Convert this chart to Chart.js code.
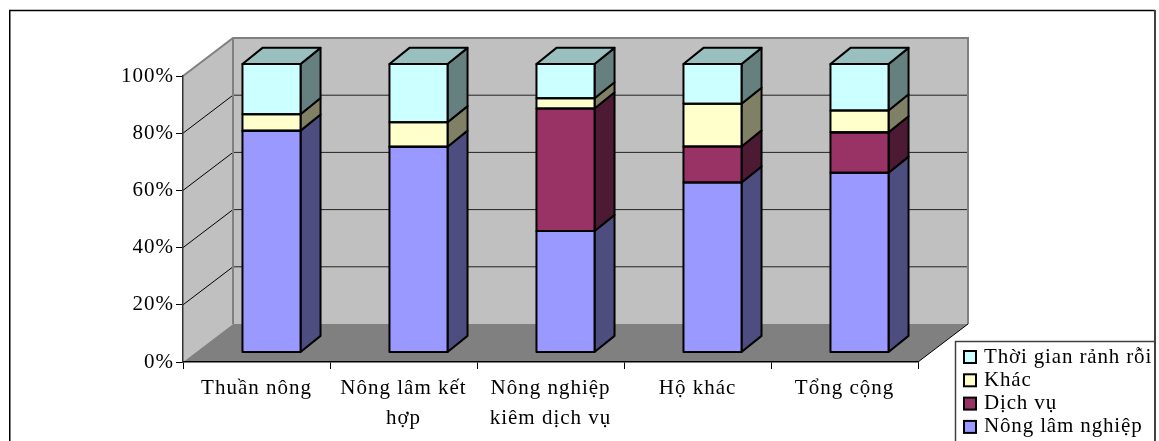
<!DOCTYPE html>
<html>
<head>
<meta charset="utf-8">
<title>Cơ cấu thời gian</title>
<script src="https://cdn.jsdelivr.net/npm/chart.js@4"></script>
<style>
    html, body { margin: 0; padding: 0; background: #fff; }
    canvas { display: block; }
</style>
</head>
<body>
<canvas id="chart" width="1159" height="441"></canvas>
<script>
const categories = ["Thuần nông", ["Nông lâm kết", "hợp"], ["Nông nghiệp", "kiêm dịch vụ"], "Hộ khác", "Tổng cộng"];
const nongLam = [76.9, 71.3, 42.1, 58.9, 62.3];
const dichVu = [0, 0, 42.5, 12.5, 14];
const khac = [5.7, 8.5, 3.5, 14.8, 7.6];
const ranhRoi = [17.4, 20.2, 11.9, 13.8, 16.1];
const yTicks = [0, 20, 40, 60, 80, 100];

const FONT = "'Liberation Serif', 'Times New Roman', serif";

// depth of the box and of each column
const boxDepth = { x: 50, y: 38 };
const barDepth = { x: 20, y: 16 };
// columns stand a little inside the floor
const barPlane = { dx: 15, scale: 1.00874, floor: 352.5 };

function shade(hex, f) {
    const n = parseInt(hex.slice(1), 16);
    const c = [n >> 16, (n >> 8) & 255, n & 255].map(v => Math.round(v * f));
    return `rgb(${c[0]},${c[1]},${c[2]})`;
}

function poly(ctx, pts, fill, stroke, lw) {
    ctx.beginPath();
    pts.forEach((p, i) => i ? ctx.lineTo(p[0], p[1]) : ctx.moveTo(p[0], p[1]));
    ctx.closePath();
    if (fill) { ctx.fillStyle = fill; ctx.fill(); }
    if (stroke) { ctx.strokeStyle = stroke; ctx.lineWidth = lw; ctx.stroke(); }
}

function line(ctx, x1, y1, x2, y2, color, lw) {
    ctx.beginPath();
    ctx.moveTo(x1, y1);
    ctx.lineTo(x2, y2);
    ctx.strokeStyle = color;
    ctx.lineWidth = lw;
    ctx.stroke();
}

function applyBarPlane(ctx, area) {
    const s = barPlane.scale;
    ctx.transform(1, 0, 0, s, barPlane.dx, barPlane.floor - area.bottom * s);
}

const box3d = {
    id: "box3d",
    beforeDraw(chart) {
        const { ctx, chartArea: a, scales } = chart;
        const dx = boxDepth.x, dy = boxDepth.y;
        // wider tracking for the axis labels
        ctx.letterSpacing = "1px";
        ctx.save();
        ctx.fillStyle = "#fff";
        ctx.fillRect(0, 0, chart.width, chart.height);

        // outer frame, open at the bottom
        ctx.beginPath();
        ctx.moveTo(9.75, chart.height);
        ctx.lineTo(9.75, 10.5);
        ctx.lineTo(1155, 10.5);
        ctx.strokeStyle = "#000";
        ctx.lineWidth = 1.5;
        ctx.stroke();
        line(ctx, 1155, 10, 1155, chart.height, "#404040", 2);

        // left wall, back wall, floor
        poly(ctx, [[a.left, a.top], [a.left + dx, a.top - dy], [a.left + dx, a.bottom - dy], [a.left, a.bottom]], "#c0c0c0");
        poly(ctx, [[a.left + dx, a.top - dy], [a.right + dx, a.top - dy], [a.right + dx, a.bottom - dy], [a.left + dx, a.bottom - dy]], "#c0c0c0");
        poly(ctx, [[a.left, a.bottom], [a.left + dx, a.bottom - dy], [a.right + dx, a.bottom - dy], [a.right, a.bottom]], "#808080");

        // gridlines run along the left wall and across the back wall
        yTicks.slice(1, -1).forEach(v => {
            const y = scales.y.getPixelForValue(v);
            line(ctx, a.left, y, a.left + dx, y - dy, "#000", 1);
            line(ctx, a.left + dx, y - dy, a.right + dx, y - dy, "#222", 1);
        });

        // wall edges
        ctx.beginPath();
        ctx.moveTo(a.left, a.top);
        ctx.lineTo(a.left + dx, a.top - dy);
        ctx.lineTo(a.right + dx, a.top - dy);
        ctx.lineTo(a.right + dx, a.bottom - dy);
        ctx.moveTo(a.left + dx, a.top - dy);
        ctx.lineTo(a.left + dx, a.bottom - dy);
        ctx.strokeStyle = "#808080";
        ctx.lineWidth = 2;
        ctx.stroke();
        line(ctx, a.right, a.bottom, a.right + dx, a.bottom - dy, "#000", 1);
        ctx.restore();
    },
    beforeDatasetsDraw(chart) {
        const { ctx, chartArea: a } = chart;
        // stays open until afterDatasetsDraw so the column faces share the transform
        ctx.save();
        applyBarPlane(ctx, a);
        ctx.lineJoin = "round";
        const last = chart.data.datasets.length - 1;
        chart.data.datasets.forEach((ds, i) => {
            chart.getDatasetMeta(i).data.forEach(el => {
                const p = el.getProps(["x", "y", "base", "width"], true);
                const r = p.x + p.width / 2;
                const l = p.x - p.width / 2;
                if (p.base - p.y > 0.5) {
                    poly(ctx, [[r, p.y], [r + barDepth.x, p.y - barDepth.y], [r + barDepth.x, p.base - barDepth.y], [r, p.base]], shade(ds.backgroundColor, 0.5), "#000", 2);
                }
                if (i === last) {
                    poly(ctx, [[l, p.y], [l + barDepth.x, p.y - barDepth.y], [r + barDepth.x, p.y - barDepth.y], [r, p.y]], shade(ds.backgroundColor, 0.75), "#000", 2);
                }
            });
        });
    },
    afterDatasetsDraw(chart) {
        const { ctx } = chart;
        ctx.lineJoin = "round";
        chart.data.datasets.forEach((ds, i) => {
            chart.getDatasetMeta(i).data.forEach(el => {
                const p = el.getProps(["x", "y", "base", "width"], true);
                ctx.strokeStyle = "#000";
                ctx.lineWidth = 2;
                ctx.strokeRect(p.x - p.width / 2, p.y, p.width, p.base - p.y);
            });
        });
        ctx.restore();
    },
    afterDraw(chart) {
        const { ctx } = chart;
        const box = { x: 955, y: 341, w: 200 };
        ctx.save();
        // legend frame, also open at the bottom
        ctx.beginPath();
        ctx.moveTo(box.x + 0.5, chart.height);
        ctx.lineTo(box.x + 0.5, box.y + 0.5);
        ctx.lineTo(box.x + box.w, box.y + 0.5);
        ctx.strokeStyle = "#404040";
        ctx.lineWidth = 1.5;
        ctx.stroke();

        const rows = chart.data.datasets.slice().reverse();
        ctx.font = `21px ${FONT}`;
        ctx.letterSpacing = "0.85px";
        ctx.textBaseline = "middle";
        rows.forEach((ds, i) => {
            const y = 357 + i * 23.3;
            ctx.fillStyle = ds.backgroundColor;
            ctx.fillRect(box.x + 9, y - 6, 12, 12);
            ctx.strokeStyle = "#000";
            ctx.lineWidth = 2;
            ctx.strokeRect(box.x + 9, y - 6, 12, 12);
            ctx.fillStyle = "#000";
            ctx.fillText(ds.label, box.x + 29, y);
        });
        ctx.restore();
    }
};

new Chart(document.getElementById("chart"), {
    type: "bar",
    data: {
        labels: categories,
        datasets: [
            { label: "Nông lâm nghiệp", data: nongLam, backgroundColor: "#9999ff", borderWidth: 0 },
            { label: "Dịch vụ", data: dichVu, backgroundColor: "#993366", borderWidth: 0 },
            { label: "Khác", data: khac, backgroundColor: "#ffffcc", borderWidth: 0 },
            { label: "Thời gian rảnh rỗi", data: ranhRoi, backgroundColor: "#ccffff", borderWidth: 0 },
        ],
    },
    options: {
        responsive: false,
        animation: false,
        barPercentage: 0.395,
        categoryPercentage: 1,
        layout: { padding: { top: 76, right: 241, left: 0, bottom: 0 } },
        plugins: {
            legend: { display: false },
            tooltip: { enabled: false },
            title: { display: false },
        },
        scales: {
            x: {
                stacked: true,
                afterFit(scale) { scale.height = 79; },
                grid: { drawOnChartArea: false, tickLength: 7, color: "#000", tickColor: "#000" },
                border: { color: "#000", width: 1.5 },
                ticks: {
                    color: "#000",
                    padding: 4,
                    autoSkip: false,
                    maxRotation: 0,
                    font: { family: FONT, size: 21, lineHeight: 1.43 },
                },
            },
            y: {
                stacked: true,
                min: 0,
                max: 100,
                afterFit(scale) { scale.width = 183; },
                afterBuildTicks(scale) { scale.ticks = yTicks.map(v => ({ value: v })); },
                grid: { drawOnChartArea: false, tickLength: 7, color: "#000", tickColor: "#000" },
                border: { color: "#333", width: 1.5 },
                ticks: {
                    color: "#000",
                    padding: 2,
                    callback: v => v + "%",
                    font: { family: FONT, size: 21 },
                },
            },
        },
    },
    plugins: [box3d],
});
</script>
</body>
</html>
